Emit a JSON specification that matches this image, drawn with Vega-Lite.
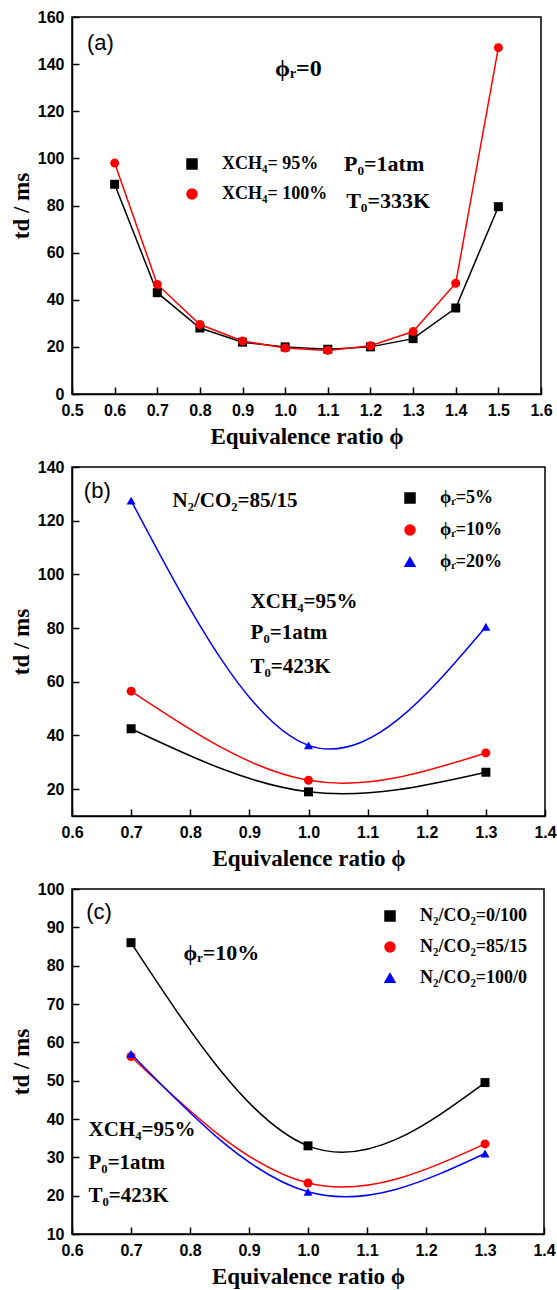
{
  "$schema": "https://vega.github.io/schema/vega-lite/v6.json",
  "padding": {"left": 9, "top": 8, "right": 0, "bottom": 0},
  "autosize": {"type": "pad"},
  "spacing": 73,
  "bounds": "flush",
  "resolve": {"scale": {"color": "independent", "shape": "independent"}, "legend": {"color": "independent", "shape": "independent"}},
  "config": {
    "view": {"stroke": "#000000", "strokeWidth": 1.5},
    "axis": {
      "grid": false, "domainColor": "#000000", "domainWidth": 1.5,
      "tickColor": "#000000", "tickWidth": 1.5, "tickSize": -7,
      "labelFont": "Liberation Sans", "labelFontWeight": "bold", "labelFontSize": 16,
      "labelColor": "#000000", "labelPadding": 15, "labelFlush": false, "labelOverlap": false,
      "titleFont": "Liberation Serif", "titleFontSize": 23, "titleFontWeight": "bold", "titleColor": "#000000"
    },
    "axisX": {"titlePadding": 7},
    "axisY": {"titlePadding": 4},
    "legend": {
      "labelFont": "Liberation Serif", "labelFontSize": 18, "labelFontWeight": "bold", "labelColor": "#000000",
      "symbolSize": 100, "symbolStrokeWidth": 1.5, "labelOffset": 21, "padding": 0
    },
    "text": {"font": "Liberation Serif", "fontWeight": "bold", "fontSize": 22, "color": "#000000", "align": "left", "baseline": "middle"}
  },
  "datasets": {
    "a": [
      {"phi": 0.6, "td": 89, "series": "XCH₄= 95%"},
      {"phi": 0.7, "td": 43, "series": "XCH₄= 95%"},
      {"phi": 0.8, "td": 28, "series": "XCH₄= 95%"},
      {"phi": 0.9, "td": 22, "series": "XCH₄= 95%"},
      {"phi": 1.0, "td": 20, "series": "XCH₄= 95%"},
      {"phi": 1.1, "td": 19, "series": "XCH₄= 95%"},
      {"phi": 1.2, "td": 20, "series": "XCH₄= 95%"},
      {"phi": 1.3, "td": 23.5, "series": "XCH₄= 95%"},
      {"phi": 1.4, "td": 36.5, "series": "XCH₄= 95%"},
      {"phi": 1.5, "td": 79.5, "series": "XCH₄= 95%"},
      {"phi": 0.6, "td": 98, "series": "XCH₄= 100%"},
      {"phi": 0.7, "td": 46.5, "series": "XCH₄= 100%"},
      {"phi": 0.8, "td": 29.5, "series": "XCH₄= 100%"},
      {"phi": 0.9, "td": 22.5, "series": "XCH₄= 100%"},
      {"phi": 1.0, "td": 19.5, "series": "XCH₄= 100%"},
      {"phi": 1.1, "td": 18.5, "series": "XCH₄= 100%"},
      {"phi": 1.2, "td": 20.5, "series": "XCH₄= 100%"},
      {"phi": 1.3, "td": 26.5, "series": "XCH₄= 100%"},
      {"phi": 1.4, "td": 47, "series": "XCH₄= 100%"},
      {"phi": 1.5, "td": 147, "series": "XCH₄= 100%"}
    ],
    "b": [
      {"phi": 0.7, "td": 42.5, "series": "ϕᵣ=5%"},
      {"phi": 1.0, "td": 19, "series": "ϕᵣ=5%"},
      {"phi": 1.3, "td": 26.3, "series": "ϕᵣ=5%"},
      {"phi": 0.7, "td": 56.5, "series": "ϕᵣ=10%"},
      {"phi": 1.0, "td": 23.3, "series": "ϕᵣ=10%"},
      {"phi": 1.3, "td": 33.5, "series": "ϕᵣ=10%"},
      {"phi": 0.7, "td": 127.5, "series": "ϕᵣ=20%"},
      {"phi": 1.0, "td": 36.3, "series": "ϕᵣ=20%"},
      {"phi": 1.3, "td": 80.5, "series": "ϕᵣ=20%"}
    ],
    "c": [
      {"phi": 0.7, "td": 86, "series": "N₂/CO₂=0/100"},
      {"phi": 1.0, "td": 33, "series": "N₂/CO₂=0/100"},
      {"phi": 1.3, "td": 49.5, "series": "N₂/CO₂=0/100"},
      {"phi": 0.7, "td": 56.3, "series": "N₂/CO₂=85/15"},
      {"phi": 1.0, "td": 23.3, "series": "N₂/CO₂=85/15"},
      {"phi": 1.3, "td": 33.5, "series": "N₂/CO₂=85/15"},
      {"phi": 0.7, "td": 57, "series": "N₂/CO₂=100/0"},
      {"phi": 1.0, "td": 21, "series": "N₂/CO₂=100/0"},
      {"phi": 1.3, "td": 31, "series": "N₂/CO₂=100/0"}
    ]
  },
  "vconcat": [
    {
      "width": 469, "height": 377,
      "encoding": {
        "x": {"field": "phi", "type": "quantitative", "scale": {"domain": [0.5, 1.6], "nice": false, "zero": false},
              "axis": {"values": [0.5, 0.6, 0.7, 0.8, 0.9, 1.0, 1.1, 1.2, 1.3, 1.4, 1.5, 1.6], "format": ".1f", "title": "Equivalence ratio ϕ"}},
        "y": {"field": "td", "type": "quantitative", "scale": {"domain": [0, 160], "nice": false, "zero": false},
              "axis": {"values": [0, 20, 40, 60, 80, 100, 120, 140, 160], "title": "td / ms"}}
      },
      "layer": [
        {
          "data": {"name": "a"},
          "mark": {"type": "line", "strokeWidth": 1.5},
          "encoding": {"color": {"field": "series", "type": "nominal", "scale": {"domain": ["XCH₄= 95%", "XCH₄= 100%"], "range": ["#000000", "#ff0000"]}}}
        },
        {
          "data": {"name": "a"},
          "mark": {"type": "point", "filled": true, "size": 81, "opacity": 1},
          "encoding": {
            "color": {"field": "series", "type": "nominal", "scale": {"domain": ["XCH₄= 95%", "XCH₄= 100%"], "range": ["#000000", "#ff0000"]},
                      "legend": {"title": null, "orient": "none", "legendX": 111, "legendY": 138, "rowPadding": 12}},
            "shape": {"field": "series", "type": "nominal", "scale": {"domain": ["XCH₄= 95%", "XCH₄= 100%"], "range": ["square", "circle"]},
                      "legend": {"title": null, "orient": "none", "legendX": 111, "legendY": 138, "rowPadding": 12}}
          }
        },
        {"data": {"values": [{"note": "(a)", "phi": 0.535, "td": 149}]},
         "mark": {"type": "text", "font": "Liberation Sans", "fontWeight": "normal", "fontSize": 22},
         "encoding": {"text": {"field": "note"}}},
        {"data": {"values": [{"note": "ϕᵣ=0", "phi": 1.031, "td": 138}]},
         "mark": {"type": "text", "fontSize": 24, "align": "center"},
         "encoding": {"text": {"field": "note"}}},
        {"data": {"values": [{"note": "P₀=1atm", "phi": 1.138, "td": 97.6}, {"note": "T₀=333K", "phi": 1.143, "td": 82}]},
         "mark": {"type": "text"},
         "encoding": {"text": {"field": "note"}}}
      ]
    },
    {
      "width": 473, "height": 349,
      "encoding": {
        "x": {"field": "phi", "type": "quantitative", "scale": {"domain": [0.6, 1.4], "nice": false, "zero": false},
              "axis": {"values": [0.6, 0.7, 0.8, 0.9, 1.0, 1.1, 1.2, 1.3, 1.4], "format": ".1f", "title": "Equivalence ratio ϕ"}},
        "y": {"field": "td", "type": "quantitative", "scale": {"domain": [10, 140], "nice": false, "zero": false},
              "axis": {"values": [20, 40, 60, 80, 100, 120, 140], "title": "td / ms"}}
      },
      "layer": [
        {
          "data": {"name": "b"},
          "mark": {"type": "line", "strokeWidth": 1.5, "interpolate": "natural"},
          "encoding": {"color": {"field": "series", "type": "nominal", "scale": {"domain": ["ϕᵣ=5%", "ϕᵣ=10%", "ϕᵣ=20%"], "range": ["#000000", "#ff0000", "#0000ff"]}}}
        },
        {
          "data": {"name": "b"},
          "mark": {"type": "point", "filled": true, "size": 81, "opacity": 1},
          "encoding": {
            "color": {"field": "series", "type": "nominal", "scale": {"domain": ["ϕᵣ=5%", "ϕᵣ=10%", "ϕᵣ=20%"], "range": ["#000000", "#ff0000", "#0000ff"]},
                      "legend": {"title": null, "orient": "none", "legendX": 329, "legendY": 22, "rowPadding": 14}},
            "shape": {"field": "series", "type": "nominal", "scale": {"domain": ["ϕᵣ=5%", "ϕᵣ=10%", "ϕᵣ=20%"], "range": ["square", "circle", "triangle-up"]},
                      "legend": {"title": null, "orient": "none", "legendX": 329, "legendY": 22, "rowPadding": 14}}
          }
        },
        {"data": {"values": [{"note": "(b)", "phi": 0.62, "td": 131}]},
         "mark": {"type": "text", "font": "Liberation Sans", "fontWeight": "normal", "fontSize": 22},
         "encoding": {"text": {"field": "note"}}},
        {"data": {"values": [{"note": "N₂/CO₂=85/15", "phi": 0.77, "td": 127.2}, {"note": "XCH₄=95%", "phi": 0.902, "td": 89.8}, {"note": "P₀=1atm", "phi": 0.902, "td": 78.1}, {"note": "T₀=423K", "phi": 0.902, "td": 65.4}]},
         "mark": {"type": "text", "fontSize": 21},
         "encoding": {"text": {"field": "note"}}}
      ]
    },
    {
      "width": 472, "height": 345,
      "encoding": {
        "x": {"field": "phi", "type": "quantitative", "scale": {"domain": [0.6, 1.4], "nice": false, "zero": false},
              "axis": {"values": [0.6, 0.7, 0.8, 0.9, 1.0, 1.1, 1.2, 1.3, 1.4], "format": ".1f", "title": "Equivalence ratio ϕ"}},
        "y": {"field": "td", "type": "quantitative", "scale": {"domain": [10, 100], "nice": false, "zero": false},
              "axis": {"values": [10, 20, 30, 40, 50, 60, 70, 80, 90, 100], "labelOverlap": false, "title": "td / ms"}}
      },
      "layer": [
        {
          "data": {"name": "c"},
          "mark": {"type": "line", "strokeWidth": 1.5, "interpolate": "natural"},
          "encoding": {"color": {"field": "series", "type": "nominal", "scale": {"domain": ["N₂/CO₂=0/100", "N₂/CO₂=85/15", "N₂/CO₂=100/0"], "range": ["#000000", "#ff0000", "#0000ff"]}}}
        },
        {
          "data": {"name": "c"},
          "mark": {"type": "point", "filled": true, "size": 81, "opacity": 1},
          "encoding": {
            "color": {"field": "series", "type": "nominal", "scale": {"domain": ["N₂/CO₂=0/100", "N₂/CO₂=85/15", "N₂/CO₂=100/0"], "range": ["#000000", "#ff0000", "#0000ff"]},
                      "legend": {"title": null, "orient": "none", "legendX": 309, "legendY": 18, "rowPadding": 13}},
            "shape": {"field": "series", "type": "nominal", "scale": {"domain": ["N₂/CO₂=0/100", "N₂/CO₂=85/15", "N₂/CO₂=100/0"], "range": ["square", "circle", "triangle-up"]},
                      "legend": {"title": null, "orient": "none", "legendX": 309, "legendY": 18, "rowPadding": 13}}
          }
        },
        {"data": {"values": [{"note": "(c)", "phi": 0.624, "td": 94}]},
         "mark": {"type": "text", "font": "Liberation Sans", "fontWeight": "normal", "fontSize": 22},
         "encoding": {"text": {"field": "note"}}},
        {"data": {"values": [{"note": "ϕᵣ=10%", "phi": 0.789, "td": 83.2}]},
         "mark": {"type": "text", "fontSize": 22},
         "encoding": {"text": {"field": "note"}}},
        {"data": {"values": [{"note": "XCH₄=95%", "phi": 0.628, "td": 37.2}, {"note": "P₀=1atm", "phi": 0.628, "td": 28.4}, {"note": "T₀=423K", "phi": 0.628, "td": 19.8}]},
         "mark": {"type": "text", "fontSize": 21},
         "encoding": {"text": {"field": "note"}}}
      ]
    }
  ]
}
